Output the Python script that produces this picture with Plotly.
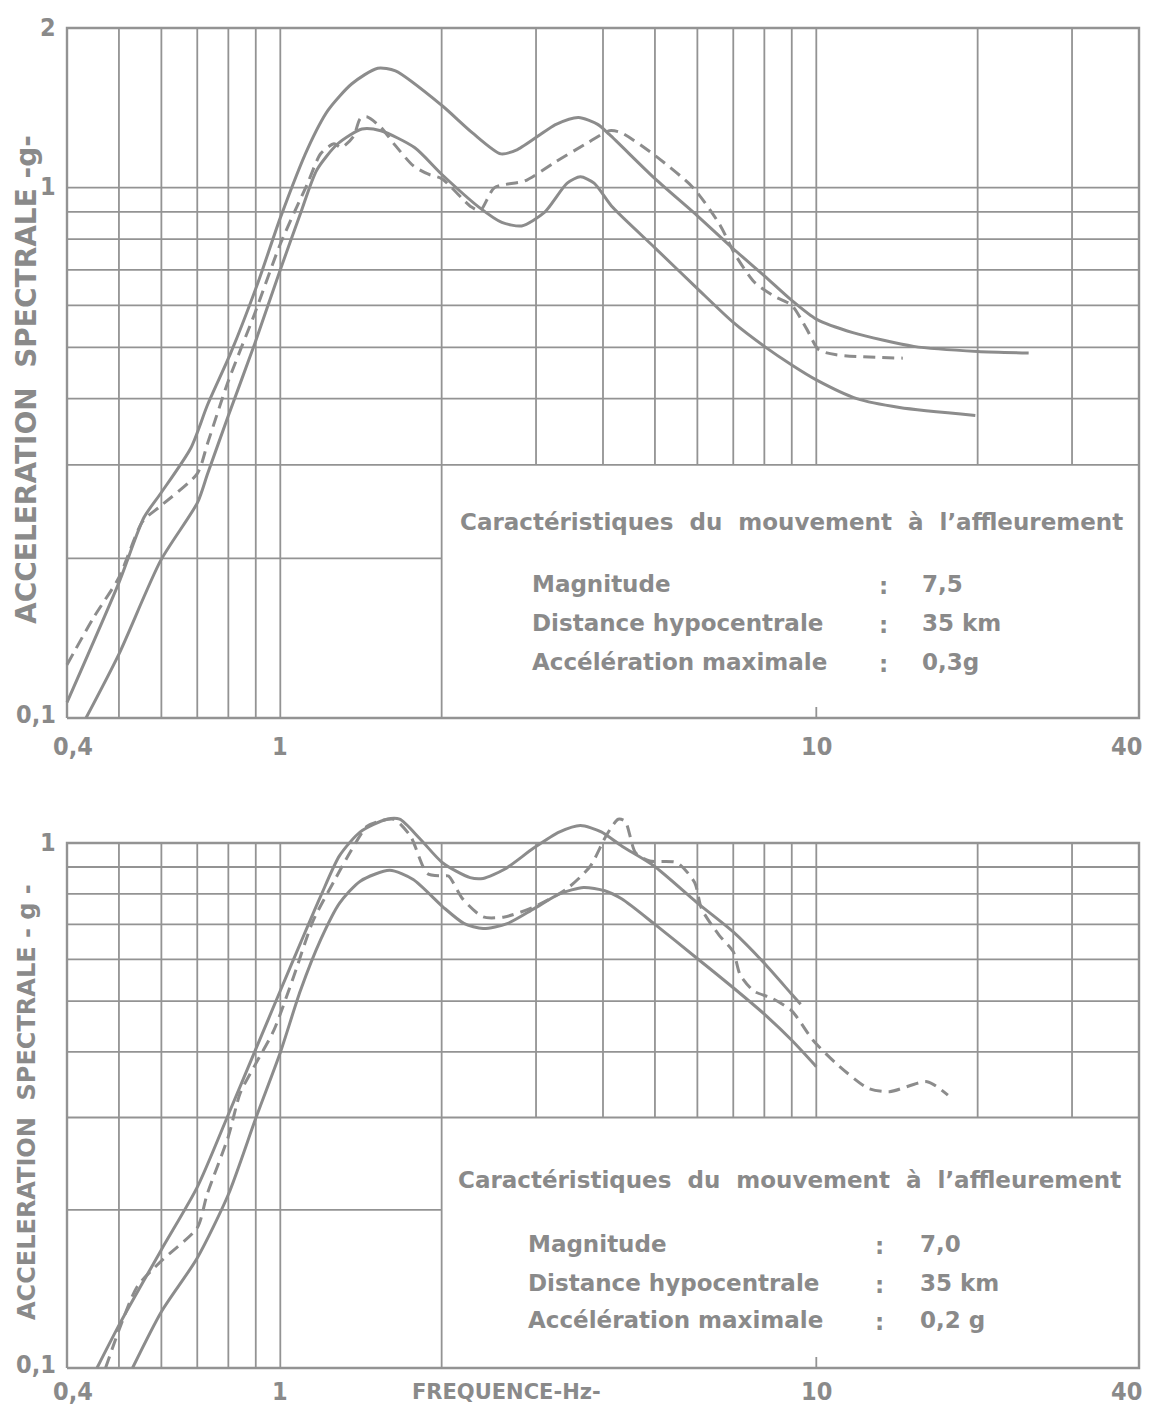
import numpy as np
import plotly.graph_objects as go

# ---------------- data ----------------
# Top chart: M 7.5, 35 km, 0.3 g
top_upper_f = [0.40, 0.50, 0.557, 0.598, 0.681, 0.732, 0.809, 0.908, 1.0, 1.125, 1.228, 1.36, 1.52, 1.64,
               2.0, 2.28, 2.58, 2.77, 3.27, 3.60, 3.91, 4.11, 5.0, 6.0, 7.0, 8.0, 9.0, 10.0, 11.7, 15.2, 20.0, 24.9]
top_upper_a = [0.107, 0.180, 0.239, 0.265, 0.323, 0.390, 0.489, 0.661, 0.877, 1.185, 1.40, 1.57, 1.68, 1.66,
               1.43, 1.27, 1.158, 1.18, 1.316, 1.356, 1.316, 1.26, 1.04, 0.885, 0.767, 0.682, 0.613, 0.565, 0.533, 0.502, 0.491, 0.488]

top_lower_f = [0.434, 0.5, 0.598, 0.701, 0.732, 0.798, 0.896, 1.0, 1.09, 1.17, 1.28, 1.42, 1.54, 1.78, 2.0,
               2.35, 2.59, 2.82, 3.11, 3.43, 3.63, 3.85, 4.17, 5.0, 6.0, 7.0, 8.0, 9.0, 10.0, 11.9, 14.3, 19.8]
top_lower_a = [0.100, 0.132, 0.198, 0.255, 0.289, 0.369, 0.508, 0.700, 0.893, 1.08, 1.21, 1.29, 1.28, 1.19, 1.06,
               0.918, 0.86, 0.847, 0.898, 1.02, 1.048, 1.02, 0.918, 0.77, 0.645, 0.557, 0.502, 0.463, 0.434, 0.40, 0.385, 0.372]

top_dash_f = [0.40, 0.449, 0.5, 0.554, 0.598, 0.70, 0.732, 0.798, 0.896, 1.0, 1.125, 1.19, 1.26, 1.30, 1.37, 1.41,
              1.45, 1.54, 1.64, 1.77, 1.89, 2.0, 2.27, 2.36, 2.51, 2.86, 3.27, 3.72, 4.11, 4.32, 5.0, 5.89, 6.6,
              7.06, 7.66, 8.3, 9.0, 9.6, 10.1, 10.9, 14.5]
top_dash_a = [0.126, 0.155, 0.184, 0.235, 0.251, 0.289, 0.33, 0.429, 0.579, 0.783, 1.02, 1.16, 1.21, 1.19, 1.25, 1.35,
              1.36, 1.30, 1.20, 1.10, 1.06, 1.04, 0.92, 0.905, 1.0, 1.03, 1.12, 1.21, 1.28, 1.27, 1.15, 1.0, 0.853,
              0.747, 0.664, 0.626, 0.60, 0.541, 0.495, 0.484, 0.477]

# Bottom chart: M 7.0, 35 km, 0.2 g
bot_upper_f = [0.455, 0.503, 0.60, 0.70, 0.80, 0.90, 1.0, 1.09, 1.19, 1.29, 1.41, 1.58, 1.67, 1.82, 2.01, 2.26,
               2.39, 2.62, 2.97, 3.32, 3.63, 3.97, 4.34, 4.98, 5.98, 7.0, 8.0, 9.0, 9.35]
bot_upper_a = [0.100, 0.122, 0.168, 0.221, 0.304, 0.405, 0.523, 0.644, 0.793, 0.946, 1.05, 1.11, 1.11, 1.02, 0.916, 0.859,
               0.856, 0.891, 0.978, 1.05, 1.08, 1.05, 0.986, 0.904, 0.771, 0.677, 0.590, 0.515, 0.493]

bot_lower_f = [0.53, 0.60, 0.70, 0.80, 0.90, 1.0, 1.09, 1.19, 1.29, 1.41, 1.60, 1.77, 2.01, 2.20, 2.39, 2.65,
               2.97, 3.32, 3.68, 4.03, 4.34, 4.98, 5.98, 7.0, 8.0, 9.0, 10.0]
bot_lower_a = [0.100, 0.128, 0.162, 0.214, 0.299, 0.399, 0.523, 0.655, 0.768, 0.846, 0.887, 0.852, 0.756, 0.703, 0.687, 0.702,
               0.749, 0.80, 0.823, 0.811, 0.782, 0.702, 0.604, 0.53, 0.472, 0.421, 0.375]

bot_dash_f = [0.472, 0.503, 0.541, 0.60, 0.70, 0.73, 0.80, 0.842, 0.90, 0.972, 1.06, 1.15, 1.26, 1.35, 1.45, 1.53,
              1.63, 1.75, 1.88, 2.01, 2.06, 2.19, 2.39, 2.62, 2.97, 3.42, 3.79, 4.05, 4.27, 4.40, 4.60, 4.89, 5.5,
              5.93, 6.11, 6.59, 7.0, 7.21, 7.65, 8.24, 9.0, 9.86, 10.9, 12.5, 13.7, 16.1, 17.6]
bot_dash_a = [0.100, 0.120, 0.143, 0.160, 0.185, 0.214, 0.276, 0.334, 0.38, 0.439, 0.558, 0.709, 0.846, 0.96, 1.075, 1.10,
              1.11, 1.03, 0.875, 0.866, 0.865, 0.782, 0.723, 0.723, 0.755, 0.817, 0.904, 1.03, 1.11, 1.10, 0.958, 0.924, 0.917,
              0.841, 0.749, 0.667, 0.621, 0.561, 0.522, 0.507, 0.479, 0.421, 0.38, 0.341, 0.336, 0.351, 0.331]

# axis ticks / grid values
x_tick_vals = [0.4, 1, 10, 40]
x_tick_text = ["0,4", "1", "10", "40"]
top_y_tick_vals = [2, 1, 0.1]
top_y_tick_text = ["2", "1", "0,1"]
bot_y_tick_vals = [1, 0.1]
bot_y_tick_text = ["1", "0,1"]
grid_f_full = [0.5, 0.6, 0.7, 0.8, 0.9, 1, 2]          # run the full height
grid_f_short = [3, 4, 5, 6, 7, 8, 9, 10, 20, 30]       # stop at the text box
grid_a_full = [0.3, 0.4, 0.5, 0.6, 0.7, 0.8, 0.9, 1]   # run the full width
grid_a_short = [0.2]                                   # stop at the text box

box_title = "Caractéristiques  du  mouvement  à  l’affleurement"
box_keys = ["Magnitude", "Distance hypocentrale", "Accélération maximale"]
top_box_vals = ["7,5", "35 km", "0,3g"]
bot_box_vals = ["7,0", "35 km", "0,2 g"]
y_title_top = "ACCELERATION  SPECTRALE -g-"
y_title_bot = "ACCELERATION  SPECTRALE - g -"
x_title = "FREQUENCE-Hz-"

# ---------------- layout geometry (screen pixels of the reference) ----------------
SW, SH = 1151, 1412
OFF = 8                      # page body margin in front of the figure
W, H = SW - OFF, SH - OFF    # figure size
INK = "#8a8a8a"
CURVE = "#8c8c8c"
GRIDC = "#939393"
FONT = "DejaVu Sans"
NUMFONT = "DejaVu Sans Condensed"

X0P, X1P = 67, 1139          # screen x of f=0.4 and f=40
PAD = 2
XDEC = (X1P - X0P) / 2.0
xr = [np.log10(0.4) - PAD / XDEC, np.log10(40) + PAD / XDEC]
ml = X0P - PAD - OFF
mr = W - (X1P + PAD - OFF)

TOP_T, TOP_B = 28, 718        # screen y of a=2 and a=0.1 (top chart)
TDEC = (TOP_B - TOP_T) / (np.log10(2) + 1)
BOT_T, BOT_B = 843, 1368      # screen y of a=1 and a=0.1 (bottom chart)
BDEC = (BOT_B - BOT_T) / 1.0
BOT_AREA_T = 790

mt = TOP_T - PAD - OFF
mb = H - (BOT_B + PAD - OFF)
plot_h = H - mt - mb
plot_w = W - ml - mr


def yp(py):
    return ((H - mb) - (py - OFF)) / plot_h


def xp(px):
    return ((px - OFF) - ml) / plot_w


yr_top = [-1 - PAD / TDEC, np.log10(2) + PAD / TDEC]
yr_bot = [-1 - PAD / BDEC, (BOT_T - BOT_AREA_T) / BDEC]


def grid_lines(top_val, dec):
    xs, ys = [], []
    for f in grid_f_full:
        xs += [f, f, None]; ys += [0.1, top_val, None]
    for f in grid_f_short:
        xs += [f, f, None]; ys += [0.3, top_val, None]
    for a in grid_a_full:
        xs += [0.4, 40, None]; ys += [a, a, None]
    for a in grid_a_short:
        xs += [0.4, 2, None]; ys += [a, a, None]
    # small tick at 10 on the bottom edge
    xs += [10, 10, None]; ys += [0.1, 0.1 * 10 ** (11 / dec), None]
    return xs, ys


def frame(top_val):
    return [0.4, 40, 40, 0.4, 0.4], [0.1, 0.1, top_val, top_val, 0.1]


fig = go.Figure()


def add_panel(xa, ya, top_val, dec, curves):
    gx, gy = grid_lines(top_val, dec)
    fig.add_trace(go.Scatter(x=gx, y=gy, mode="lines", xaxis=xa, yaxis=ya,
                             line=dict(color=GRIDC, width=1.8), hoverinfo="skip", showlegend=False))
    fx, fy = frame(top_val)
    fig.add_trace(go.Scatter(x=fx, y=fy, mode="lines", xaxis=xa, yaxis=ya,
                             line=dict(color=GRIDC, width=2.4), hoverinfo="skip", showlegend=False))
    for f, a, dash in curves:
        fig.add_trace(go.Scatter(x=f, y=a, mode="lines", xaxis=xa, yaxis=ya,
                                 line=dict(color=CURVE, width=3, dash=dash, shape="spline", smoothing=0.7),
                                 showlegend=False))


add_panel("x", "y", 2, TDEC, [(top_upper_f, top_upper_a, "solid"),
                             (top_lower_f, top_lower_a, "solid"),
                             (top_dash_f, top_dash_a, "12px,7px")])
add_panel("x2", "y2", 1, BDEC, [(bot_upper_f, bot_upper_a, "solid"),
                               (bot_lower_f, bot_lower_a, "solid"),
                               (bot_dash_f, bot_dash_a, "12px,7px")])

ax_common = dict(type="log", showgrid=False, zeroline=False, showline=False, ticks="",
                 showticklabels=False, fixedrange=True)
fig.update_layout(
    width=W, height=H,
    margin=dict(l=ml, r=mr, t=mt, b=mb),
    paper_bgcolor="white", plot_bgcolor="white",
    xaxis=dict(range=xr, anchor="y", domain=[0, 1], **ax_common),
    yaxis=dict(range=yr_top, anchor="x", domain=[yp(TOP_B + PAD), 1], **ax_common),
    xaxis2=dict(range=xr, anchor="y2", domain=[0, 1], **ax_common),
    yaxis2=dict(range=yr_bot, anchor="x2", domain=[0, yp(BOT_AREA_T)], **ax_common),
)

ann = []
numfont = dict(family=NUMFONT, size=25, color=INK, weight="bold")
txtfont = dict(family=FONT, size=23, color=INK, weight="bold")

# x tick labels
xshifts = [6, 0, 0, -13]
for xa, ypix in (("x", 746), ("x2", 1391)):
    for v, t, s in zip(x_tick_vals, x_tick_text, xshifts):
        ann.append(dict(x=np.log10(v), y=yp(ypix), xref=xa, yref="paper", text=t, showarrow=False,
                        xanchor="center", yanchor="middle", xshift=s, font=numfont))
# y tick labels
for vals, texts, ya in ((top_y_tick_vals, top_y_tick_text, "y"),
                        (bot_y_tick_vals, bot_y_tick_text, "y2")):
    for v, t in zip(vals, texts):
        ann.append(dict(x=xp(58), y=np.log10(v), xref="paper", yref=ya, text=t, showarrow=False,
                        xanchor="right", yanchor="middle", yshift=(4 if v == 0.1 else 1), font=numfont))

# axis titles
ann.append(dict(x=xp(27), y=yp(380), xref="paper", yref="paper", text=y_title_top, textangle=-90,
                showarrow=False, xanchor="center", yanchor="middle",
                font=dict(family=FONT, size=28, color=INK, weight="bold")))
ann.append(dict(x=xp(27), y=yp(1102), xref="paper", yref="paper", text=y_title_bot, textangle=-90,
                showarrow=False, xanchor="center", yanchor="middle",
                font=dict(family=FONT, size=24, color=INK, weight="bold")))
ann.append(dict(x=xp(506), y=yp(1392), xref="paper", yref="paper", text=x_title, showarrow=False,
                xanchor="center", yanchor="middle", font=dict(family=FONT, size=21, color=INK, weight="bold")))

# text boxes
for (tx, ty, kx, colx, vx, rows_y, vals) in (
        (458, 522, 530, 877, 920, [584, 623, 662], top_box_vals),
        (456, 1180, 526, 873, 918, [1244, 1283, 1320], bot_box_vals)):
    ann.append(dict(x=xp(tx), y=yp(ty), xref="paper", yref="paper", text=box_title, showarrow=False,
                    xanchor="left", yanchor="middle", font=txtfont))
    for key, val, ry in zip(box_keys, vals, rows_y):
        ann.append(dict(x=xp(kx), y=yp(ry), xref="paper", yref="paper", text=key, showarrow=False,
                        xanchor="left", yanchor="middle", font=txtfont))
        ann.append(dict(x=xp(colx), y=yp(ry + 2), xref="paper", yref="paper", text=":", showarrow=False,
                        xanchor="left", yanchor="middle", font=txtfont))
        ann.append(dict(x=xp(vx), y=yp(ry), xref="paper", yref="paper", text=val, showarrow=False,
                        xanchor="left", yanchor="middle", font=txtfont))

fig.update_layout(annotations=ann)
fig.write_html("out.html")
